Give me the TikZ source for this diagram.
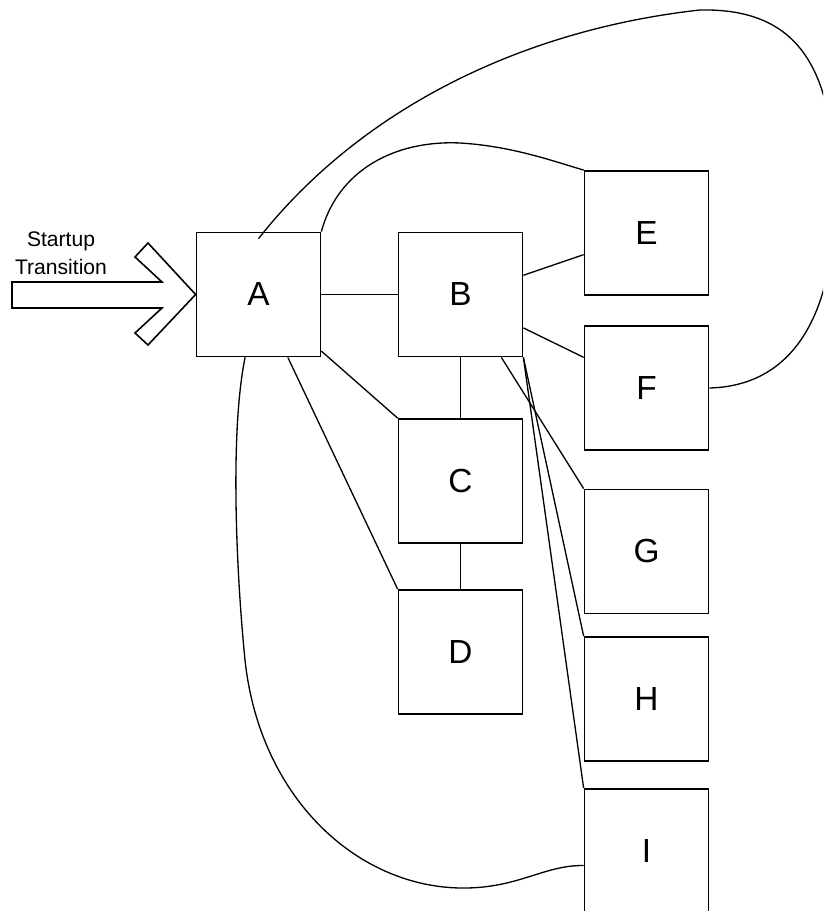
\documentclass[tikz,border=0pt]{standalone}
\usepackage{fontspec}
\setmainfont{Liberation Sans}
\usepackage{tikz}
\usetikzlibrary{calc}
\tikzset{>=stealth}
\tikzset{state/.style={draw,line width=1pt,minimum width=2.48cm,minimum height=2.48cm,inner sep=0pt,font=\fontsize{19}{21}\selectfont}}

\begin{document}
\begin{tikzpicture}[x=0.02cm,y=-0.02cm,line width=0.75pt]
\useasboundingbox (0,0) rectangle (823,911);
\clip (0,0) rectangle (823,911);
\node (A) [state] at (258.5,294.5) {A};
\node (B) [state] at (460.5,294.5) {B};
\node (C) [state] at (460.5,481) {C};
\node (D) [state] at (460.5,652) {D};
\node (E) [state] at (646.5,233) {E};
\node (F) [state] at (646.5,388) {F};
\node (G) [state] at (646.5,551.5) {G};
\node (H) [state] at (646.5,699) {H};
\node (I) [state] at (646.5,851) {I};
\node (startup) [align=center,font=\fontsize{12}{16}\selectfont] at (61,253) {Startup\\Transition};
\draw[line width=0.9pt] (12,282) -- (162,282) -- (135,257) -- (148,243) -- (A.west) -- (148,345) -- (135,333) -- (162,308) -- (12,308) -- cycle;
\draw (A.east) -- (B.west);
\draw (B.17) -- (E.199);
\draw (B.-28) -- (F.154);
\draw (B.south) -- (C.north);
\draw (C.south) -- (D.north);
\draw (A.-42) -- (C.north west);
\draw (A.-65) -- (D.north west);
\draw (B.-57) -- (G.north west);
\draw (B.south east) -- (H.north west);
\draw (B.south east) -- (I.north west);
\draw ([yshift=-0.14cm]A.north) .. controls (360,110) and (520,30) .. (700,10)
  .. controls (800,8) and (835,70) .. (835,195)
  .. controls (835,320) and (790,386) .. (F.east);
\draw (A.north east) .. controls (338,170) and (395,140) .. (460,143)
  .. controls (510,146) and (550,160) .. (E.north west);
\draw (A.-102) .. controls (230,430) and (236,570) .. (245,660)
  .. controls (260,800) and (360,890) .. (467,888)
  .. controls (520,887) and (545,865) .. (I.193);
\end{tikzpicture}
\end{document}
